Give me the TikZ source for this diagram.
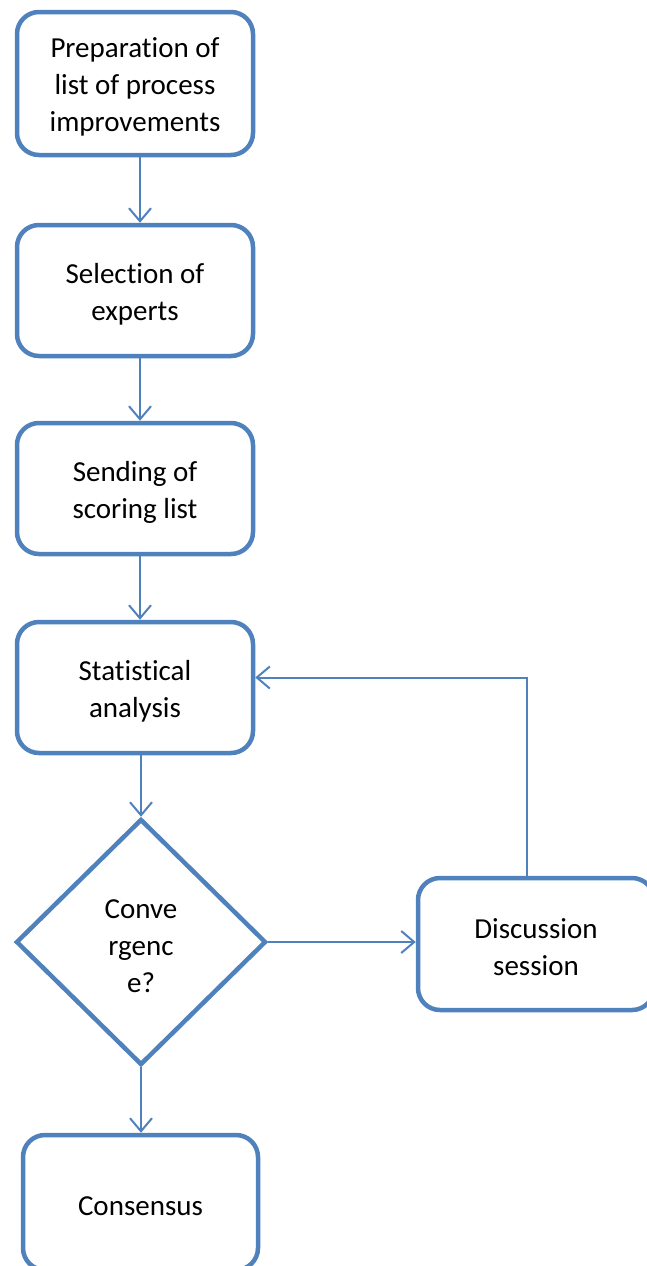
\documentclass[tikz,border=0pt]{standalone}
\usepackage{fontspec}
\setmainfont{Carlito}[Ligatures=NoCommon]
\usetikzlibrary{arrows.meta,shapes.geometric}
\definecolor{lineblue}{RGB}{79,129,189}
\newcommand{\toplift}{\rule{0pt}{27pt}}
\begin{document}
\begin{tikzpicture}[x=1pt,y=-1pt,
  stepbox/.style={draw=lineblue,line width=4.5pt,rounded corners=22pt,fill=white,
    minimum width=236pt,inner sep=0pt,align=center,font=\fontsize{29}{37}\selectfont},
  decbox/.style={draw=lineblue,line width=4.5pt,diamond,inner sep=0pt,fill=white,
    minimum width=250pt,minimum height=246pt,align=center,font=\fontsize{29}{37}\selectfont},
  arr/.style={draw=lineblue,line width=2pt,-{Straight Barb[length=13pt,width=22pt]}}]
\useasboundingbox (0,0) rectangle (646,1266);
\node[stepbox,minimum height=143pt] (b1) at (135,83.5) {\toplift Preparation of\\list of process\\improvements};
\node[stepbox,minimum height=131pt] (b2) at (135,290.5) {\toplift Selection of\\experts};
\node[stepbox,minimum height=131pt] (b3) at (135,488.5) {\toplift Sending of\\scoring list};
\node[stepbox,minimum height=131pt] (b4) at (135,687.5) {\toplift Statistical\\analysis};
\node[decbox] (d) at (141,942) {\toplift Conve\\rgenc\\e?};
\node[stepbox,minimum height=132pt] (disc) at (536,944) {\toplift Discussion\\session};
\node[stepbox,minimum width=235pt,minimum height=135pt] (cons) at (140.5,1202.5) {\toplift Consensus};
\draw[arr] ([xshift=5pt]b1.south) -- ([xshift=5pt]b2.north);
\draw[arr] ([xshift=5pt]b2.south) -- ([xshift=5pt]b3.north);
\draw[arr] ([xshift=5pt]b3.south) -- ([xshift=5pt]b4.north);
\draw[arr] ([xshift=6pt]b4.south) -- (d.north);
\draw[arr] (d.south) -- (d.south |- cons.north);
\draw[arr] (d.east) -- (disc.west |- d.east);
\draw[arr] ([xshift=-9pt]disc.north) |- ([yshift=10pt]b4.east);
\end{tikzpicture}
\end{document}
